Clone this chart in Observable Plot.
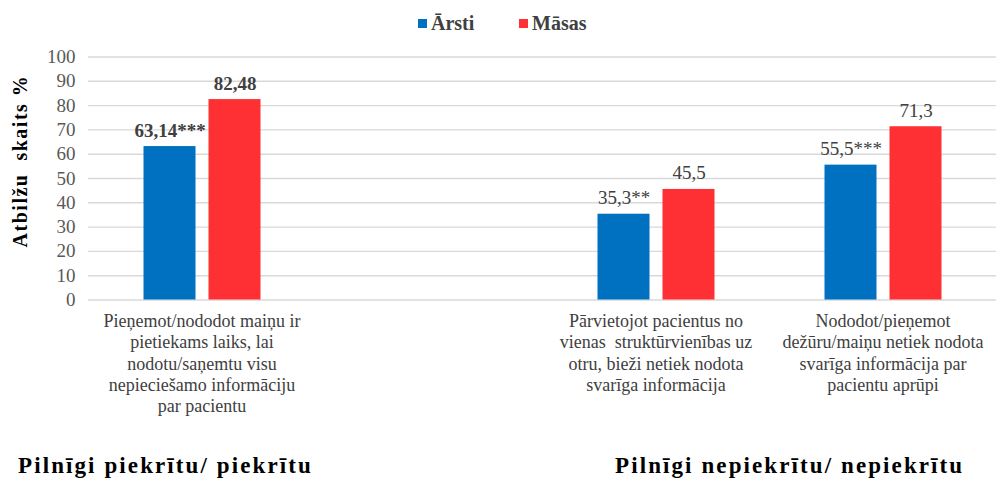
<!DOCTYPE html>
<html>
<head>
<meta charset="utf-8">
<script src="https://cdn.jsdelivr.net/npm/d3@7"></script>
<script src="https://cdn.jsdelivr.net/npm/@observablehq/plot@0.6"></script>
<style>
  body { margin: 0; background: #fff; font-family: "Liberation Serif", "Times New Roman", Tinos, "DejaVu Serif", serif; }
  #wrap { position: relative; width: 996px; height: 487px; overflow: hidden; }
  #legend { position: absolute; top: 12px; left: 0; width: 996px; height: 24px; }
  .lg { position: absolute; top: 0; display: flex; align-items: center; font-weight: bold; font-size: 20px; color: #404040; }
  .sw { width: 9px; height: 9px; margin-right: 4px; }
  #chart { position: absolute; top: 45px; left: 0; }
  #ylab { position: absolute; left: 20px; top: 161px; transform: translate(-50%, -50%) rotate(-90deg); font-weight: bold; font-size: 20px; letter-spacing: 1.5px; color: #000; white-space: pre; }
  .cap { position: absolute; top: 453px; font-weight: bold; font-size: 23px; letter-spacing: 2.1px; color: #000; white-space: nowrap; }
  #chart svg text { font-family: "Liberation Serif", "Times New Roman", Tinos, "DejaVu Serif", serif; }
</style>
</head>
<body>
<div id="wrap">
  <div id="legend"></div>
  <div id="chart"></div>
  <div id="ylab"></div>
  <div id="cap1" class="cap" style="left:18px"></div>
  <div id="cap2" class="cap" style="left:615px"></div>
</div>
<script>
const catKeys = ["c1", "gap", "c2", "c3"];
const catLabels = [
  "Pieņemot/nododot maiņu ir\npietiekams laiks, lai\nnodotu/saņemtu visu\nnepieciešamo informāciju\npar pacientu",
  "",
  "Pārvietojot pacientus no\nvienas  struktūrvienības uz\notru, bieži netiek nodota\nsvarīga informācija",
  "Nododot/pieņemot\ndežūru/maiņu netiek nodota\nsvarīga informācija par\npacientu aprūpi"
];
const series = ["Ārsti", "Māsas"];
const colors = ["#0070C0", "#FF3034"];
const dataCats = ["c1", "c2", "c3"];
const arstiValues = [63.14, 35.3, 55.5];
const masasValues = [82.48, 45.5, 71.3];
const arstiLabels = ["63,14***", "35,3**", "55,5***"];
const masasLabels = ["82,48", "45,5", "71,3"];
const yTicks = [0, 10, 20, 30, 40, 50, 60, 70, 80, 90, 100];
const yLabel = "Atbilžu  skaits %";
const groupCaptions = ["Pilnīgi piekrītu/ piekrītu", "Pilnīgi nepiekrītu/ nepiekrītu"];

const rows = [];
dataCats.forEach((c, i) => {
  rows.push({cat: c, series: series[0], value: arstiValues[i], label: arstiLabels[i]});
  rows.push({cat: c, series: series[1], value: masasValues[i], label: masasLabels[i]});
});
const gridRows = catKeys.flatMap(c => yTicks.map(v => ({cat: c, v})));
const labelOf = Object.fromEntries(catKeys.map((k, i) => [k, catLabels[i]]));
const FONT = "Liberation Serif, Times New Roman, Tinos, DejaVu Serif, serif";

const chart = Plot.plot({
  width: 996,
  height: 385,
  marginTop: 11.5,
  marginBottom: 130.5,
  marginLeft: 87.5,
  marginRight: 0,
  style: {fontFamily: FONT, background: "transparent"},
  fx: {domain: catKeys, padding: 0, label: null},
  x: {domain: series, paddingInner: 0.2, paddingOuter: 0.846, axis: null},
  y: {domain: [0, 100], label: null},
  color: {domain: series, range: colors},
  marks: [
    Plot.gridY(gridRows, {fx: "cat", y: "v", stroke: "#d9d9d9", strokeOpacity: 1, strokeWidth: 1.4}),
    Plot.axisY(yTicks, {tickSize: 0, tickPadding: 13, fontSize: 19, fill: "#595959", label: null}),
    Plot.axisFx({anchor: "bottom", tickSize: 0, tickPadding: 12, fontSize: 18, lineHeight: 1.18, fill: "#404040",
      tickFormat: d => labelOf[d], label: null}),
    Plot.barY(rows, {fx: "cat", x: "series", y: "value", fill: "series"}),
    Plot.text(rows.filter(d => d.cat === "c1"), {fx: "cat", x: "series", y: "value", text: "label",
      dy: -10, lineAnchor: "bottom", fontSize: 19, fontWeight: "bold", fill: "#404040"}),
    Plot.text(rows.filter(d => d.cat !== "c1"), {fx: "cat", x: "series", y: "value", text: "label",
      dy: -10, lineAnchor: "bottom", fontSize: 19, fill: "#404040"})
  ]
});
document.getElementById("chart").appendChild(chart);

// legend
const legend = document.getElementById("legend");
const lgLeft = [418, 519];
series.forEach((s, i) => {
  const item = document.createElement("div");
  item.className = "lg";
  item.style.left = lgLeft[i] + "px";
  const sw = document.createElement("div");
  sw.className = "sw";
  sw.style.background = colors[i];
  item.appendChild(sw);
  const t = document.createElement("span");
  t.textContent = s;
  item.appendChild(t);
  legend.appendChild(item);
});
document.getElementById("ylab").textContent = yLabel;
document.getElementById("cap1").textContent = groupCaptions[0];
document.getElementById("cap2").textContent = groupCaptions[1];
</script>
</body>
</html>
